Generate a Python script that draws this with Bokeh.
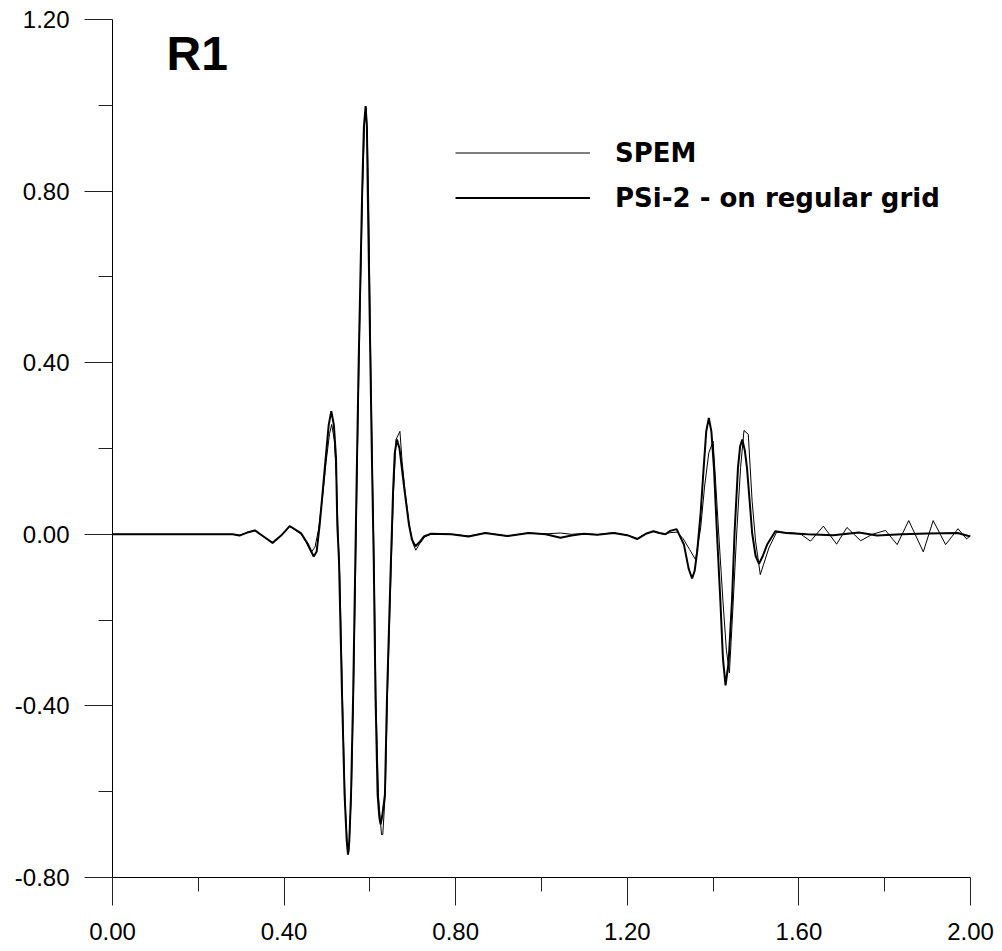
from bokeh.plotting import figure
from bokeh.models import (Range1d, FixedTicker, NumeralTickFormatter, Legend,
                          LegendItem, Label)
from bokeh.embed import file_html
from bokeh.resources import INLINE

# ---------------- data ----------------
time_psi = [0.000, 0.100, 0.200, 0.280, 0.296, 0.314, 0.332, 0.352, 0.373, 0.393,
            0.413, 0.428, 0.440, 0.455, 0.469, 0.476, 0.483, 0.490, 0.497, 0.504,
            0.510, 0.516, 0.521, 0.524, 0.528, 0.535, 0.541, 0.546, 0.549, 0.552,
            0.556, 0.561, 0.566, 0.570, 0.574, 0.582, 0.586, 0.590, 0.593, 0.595,
            0.601, 0.605, 0.609, 0.613, 0.618, 0.622, 0.625, 0.629, 0.635, 0.640,
            0.649, 0.654, 0.658, 0.663, 0.669, 0.675, 0.681, 0.691, 0.698, 0.706,
            0.716, 0.726, 0.741, 0.790, 0.830, 0.869, 0.920, 0.970, 1.010, 1.044,
            1.070, 1.098, 1.130, 1.168, 1.200, 1.223, 1.245, 1.261, 1.275, 1.289,
            1.300, 1.315, 1.332, 1.343, 1.351, 1.357, 1.363, 1.371, 1.378, 1.384,
            1.390, 1.396, 1.402, 1.409, 1.417, 1.423, 1.429, 1.436, 1.444, 1.450,
            1.458, 1.463, 1.468, 1.474, 1.479, 1.485, 1.491, 1.499, 1.507, 1.516,
            1.526, 1.545, 1.570, 1.620, 1.680, 1.740, 1.782, 1.840, 1.900, 1.970,
            2.000]
psi2 = [0.000, 0.000, 0.000, 0.000, -0.003, 0.004, 0.009, -0.005, -0.020, -0.003,
        0.019, 0.010, 0.002, -0.022, -0.052, -0.040, 0.023, 0.100, 0.178, 0.255,
        0.287, 0.255, 0.178, 0.023, -0.063, -0.374, -0.607, -0.715, -0.747, -0.715,
        -0.607, -0.374, -0.063, 0.180, 0.411, 0.800, 0.950, 0.998, 0.950, 0.800,
        0.411, 0.160, -0.063, -0.374, -0.607, -0.660, -0.676, -0.655, -0.607, -0.374,
        -0.063, 0.100, 0.190, 0.221, 0.200, 0.150, 0.100, 0.023, -0.012, -0.028,
        -0.018, -0.005, 0.001, 0.000, -0.005, 0.003, -0.004, 0.003, 0.000, -0.008,
        -0.003, 0.001, -0.001, 0.003, -0.002, -0.011, 0.002, 0.007, 0.003, 0.000,
        0.008, 0.012, -0.024, -0.080, -0.103, -0.085, -0.040, 0.050, 0.155, 0.240,
        0.271, 0.240, 0.155, 0.003, -0.156, -0.290, -0.352, -0.300, -0.156, 0.003,
        0.155, 0.205, 0.221, 0.195, 0.155, 0.080, 0.003, -0.050, -0.069, -0.050,
        -0.024, 0.007, 0.003, 0.000, -0.002, 0.004, -0.003, 0.000, 0.002, 0.003,
        -0.005]

time_spem = [0.000, 0.100, 0.200, 0.280, 0.296, 0.314, 0.332, 0.352, 0.373, 0.393,
             0.413, 0.428, 0.440, 0.452, 0.463, 0.472, 0.480, 0.490, 0.498, 0.506,
             0.511, 0.517, 0.522, 0.526, 0.530, 0.536, 0.542, 0.548, 0.551, 0.557,
             0.562, 0.567, 0.571, 0.575, 0.583, 0.588, 0.591, 0.594, 0.597, 0.602,
             0.606, 0.610, 0.614, 0.620, 0.627, 0.630, 0.636, 0.641, 0.650, 0.655,
             0.661, 0.670, 0.675, 0.682, 0.692, 0.700, 0.707, 0.716, 0.728, 0.745,
             0.790, 0.830, 0.869, 0.920, 0.970, 1.010, 1.044, 1.070, 1.098, 1.130,
             1.168, 1.200, 1.223, 1.245, 1.261, 1.275, 1.289, 1.300, 1.316, 1.330,
             1.345, 1.359, 1.371, 1.380, 1.390, 1.400, 1.406, 1.413, 1.423, 1.431,
             1.438, 1.442, 1.447, 1.455, 1.464, 1.472, 1.482, 1.491, 1.499, 1.510,
             1.530, 1.548, 1.570, 1.588, 1.605, 1.627, 1.657, 1.688, 1.712, 1.744,
             1.771, 1.802, 1.829, 1.856, 1.890, 1.913, 1.942, 1.971, 1.991, 2.000]
spem = [0.000, 0.000, 0.000, 0.000, -0.002, 0.004, 0.009, -0.005, -0.020, -0.003,
        0.019, 0.008, 0.000, -0.020, -0.042, -0.030, 0.010, 0.090, 0.170, 0.235,
        0.256, 0.220, 0.130, 0.000, -0.100, -0.380, -0.620, -0.740, -0.740, -0.600,
        -0.360, -0.060, 0.190, 0.420, 0.810, 0.975, 0.995, 0.930, 0.780, 0.400,
        0.140, -0.080, -0.380, -0.610, -0.700, -0.700, -0.600, -0.370, -0.060, 0.100,
        0.221, 0.240, 0.170, 0.100, 0.020, -0.020, -0.037, -0.022, -0.006, 0.001,
        0.000, -0.004, 0.003, -0.004, 0.003, 0.001, 0.003, 0.000, 0.002, -0.001,
        0.004, -0.002, -0.010, 0.002, 0.007, 0.002, 0.001, 0.004, 0.005, -0.010,
        -0.035, -0.059, 0.015, 0.110, 0.190, 0.217, 0.120, 0.003, -0.156, -0.270,
        -0.323, -0.250, -0.156, 0.003, 0.155, 0.242, 0.233, 0.077, -0.016, -0.094,
        -0.032, 0.005, 0.004, 0.003, 0.000, -0.016, 0.019, -0.023, 0.016, -0.015,
        0.000, 0.009, -0.024, 0.032, -0.041, 0.032, -0.024, 0.013, -0.011, -0.002]

x_major = [0.0, 0.4, 0.8, 1.2, 1.6, 2.0]
x_minor = [0.2, 0.6, 1.0, 1.4, 1.8]
y_major = [-0.8, -0.4, 0.0, 0.4, 0.8, 1.2]
y_minor = [-0.6, -0.2, 0.2, 0.6, 1.0]

series_labels = ["SPEM", "PSi-2 - on regular grid"]
title_text = "R1"

# ---------------- figure ----------------
p = figure(frame_width=858, frame_height=858,
           x_range=Range1d(0, 2), y_range=Range1d(-0.8, 1.2),
           output_backend="svg", toolbar_location=None,
           min_border_left=112, min_border_top=19,
           min_border_right=30, min_border_bottom=66)
p.background_fill_color = "white"
p.border_fill_color = "white"
p.outline_line_color = None
p.xgrid.visible = False
p.ygrid.visible = False

r_spem = p.line(time_spem, spem, line_color="black", line_width=1.0)
r_psi = p.line(time_psi, psi2, line_color="black", line_width=2.0)

for ax, maj, mnr in ((p.xaxis[0], x_major, x_minor), (p.yaxis[0], y_major, y_minor)):
    ax.ticker = FixedTicker(ticks=maj, minor_ticks=mnr)
    ax.formatter = NumeralTickFormatter(format="0.00")
    ax.axis_line_color = "black"
    ax.axis_line_width = 1
    ax.major_tick_line_color = "#222222"
    ax.minor_tick_line_color = "#222222"
    ax.major_tick_in = 0
    ax.minor_tick_in = 0
    ax.major_tick_out = 28
    ax.minor_tick_out = 14
    ax.major_label_text_font = "Liberation Sans"
    ax.major_label_text_font_size = "24px"
    ax.major_label_text_color = "black"

p.xaxis[0].major_label_standoff = 17
p.yaxis[0].major_label_standoff = 15

legend = Legend(items=[LegendItem(label=series_labels[0], renderers=[r_spem]),
                       LegendItem(label=series_labels[1], renderers=[r_psi])],
                location=(343, 657),
                border_line_color=None, background_fill_alpha=0,
                padding=0, margin=0, spacing=0,
                glyph_width=135, glyph_height=45, label_height=45,
                label_standoff=25,
                label_text_font="DejaVu Sans", label_text_font_style="bold",
                label_text_font_size="26px", label_text_color="black")
p.add_layout(legend)

p.add_layout(Label(x=0.126, y=1.12, text=title_text,
                   text_font="Liberation Sans", text_font_style="bold",
                   text_font_size="48px", text_color="black",
                   text_baseline="alphabetic"))

open("out.html", "w").write(file_html(p, INLINE))
